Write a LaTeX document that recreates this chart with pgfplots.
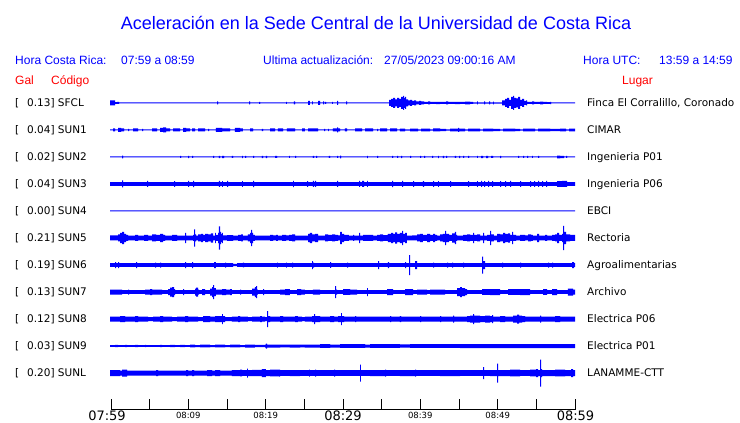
\documentclass[border=0pt]{standalone}
\usepackage{pgfplots}
\pgfplotsset{compat=1.18}
\usepackage{pgfplotstable}
\usepackage{fontspec}
\setmainfont{Liberation Sans}
\newfontfamily\dvs{DejaVu Sans}
\definecolor{trblue}{RGB}{0,0,255}
\definecolor{txblue}{RGB}{0,0,255}
\definecolor{txred}{RGB}{255,0,0}

% p = horizontal position (px), a = half amplitude (px); steps (const plot)
\pgfplotstableread[row sep=\\]{p a\\110 2.5\\115 0.8\\117 1\\119 0.5\\217 1.5\\218 0.5\\249 1.5\\250 0.5\\259 1\\260 0.5\\286 1\\287 0.5\\294 1.5\\295 0.5\\308 2\\310 0.5\\312 1.5\\313 0.5\\318 2\\320 0.5\\323 1.5\\324 0.5\\325 1\\326 0.5\\332 1\\333 0.5\\337 2\\338 0.5\\346 1.5\\347 0.5\\389 3\\391 4\\393 5\\395 3.5\\397 5\\399 4\\401 6\\403 7\\404 5\\405 6\\406 3.5\\408 2.5\\410 3\\412 2\\414 2.5\\416 1.5\\419 2\\421 1.5\\424 1\\428 1.5\\430 1\\436 1.2\\440 1\\446 1.5\\448 1\\455 1.2\\460 1\\465 1.3\\470 1\\473 0.6\\477 1.5\\478 0.6\\484 1.5\\485 0.6\\489 1.5\\490 0.6\\493 1.3\\494 0.6\\502 2.5\\505 4\\507 5\\509 3\\511 6\\513 7\\514 5\\516 4.5\\518 6\\520 3\\522 4\\524 2\\526 2.5\\527 1\\532 1.5\\534 1\\540 1.3\\543 1\\547 0.8\\550 1.2\\551 0.5\\575 0.5\\}\tSFCL

\pgfplotstableread[row sep=\\]{p a\\110 0.5\\113 1.5\\115 0.5\\118 2\\121 1.5\\124 0.5\\128 1.2\\129 0.5\\133 1.5\\138 0.5\\142 1.2\\143 0.5\\152 1.5\\157 0.5\\160 2\\163 2.5\\166 1.5\\170 0.5\\173 1.5\\180 0.5\\183 2\\186 1.5\\190 0.5\\192 1.5\\195 0.5\\198 1.5\\205 0.5\\208 1.2\\209 0.5\\216 2\\222 1.5\\230 0.5\\235 2\\240 1.5\\243 0.5\\250 1.5\\253 0.5\\262 1.2\\263 0.5\\270 1.5\\275 0.5\\278 1.5\\283 0.5\\287 1.5\\295 0.5\\302 1.5\\305 0.5\\308 1.5\\318 0.5\\324 1.2\\325 0.5\\328 1.2\\329 0.5\\333 1.5\\337 2.5\\338 1.5\\340 0.5\\345 1.5\\347 0.5\\355 1.5\\362 0.5\\365 1.5\\373 0.5\\377 1.2\\378 0.5\\380 1.5\\387 0.5\\390 1.5\\397 0.5\\400 1.3\\405 0.7\\410 1.3\\418 0.7\\421 1.3\\430 0.7\\433 1.5\\440 1.2\\446 0.7\\450 1.3\\458 2\\459 1.3\\465 0.7\\468 1.3\\480 0.7\\483 1.3\\493 1.2\\500 0.7\\503 1.3\\515 1.2\\520 0.7\\523 1.3\\535 0.7\\538 1.3\\550 1.2\\560 1.3\\566 0.7\\569 1.3\\575 1.3\\}\tSUNa

\pgfplotstableread[row sep=\\]{p a\\110 0.5\\122 1.3\\123 0.5\\180 1\\181 0.5\\188 1.2\\189 0.5\\192 1\\193 0.5\\213 1\\214 0.5\\219 1.2\\220 0.5\\222 1.2\\224 0.5\\232 1\\233 0.5\\242 1.2\\243 0.5\\245 1\\246 0.5\\253 1\\254 0.5\\262 1.2\\263 0.5\\266 1.2\\267 0.5\\275 1\\277 0.5\\289 1\\290 0.5\\295 1\\296 0.5\\313 1\\314 0.5\\316 1\\317 0.5\\329 1\\330 0.5\\337 1\\338 0.5\\340 1.3\\341 0.5\\367 1.2\\368 0.5\\377 1\\378 0.5\\392 1\\393 0.5\\397 1\\398 0.5\\401 1.2\\402 0.5\\410 1\\411 0.5\\420 1\\421 0.5\\424 1\\425 0.5\\432 1\\433 0.5\\438 1.2\\439 0.5\\443 1.2\\444 0.5\\446 1\\447 0.5\\455 1\\456 0.5\\459 1.2\\460 0.5\\463 1\\464 0.5\\468 1\\469 0.5\\477 1\\478 0.5\\481 1.2\\483 0.5\\486 1.2\\488 0.5\\491 1\\493 0.5\\500 1.2\\501 0.5\\518 1\\519 0.5\\523 1\\524 0.5\\527 1\\528 0.5\\532 1\\533 0.5\\538 1\\539 0.5\\557 1.3\\560 1.2\\564 0.5\\566 1\\567 0.5\\575 0.5\\}\tSUNb

\pgfplotstableread[row sep=\\]{p a\\110 1.8\\122 3.5\\123 1.8\\147 3\\148 1.8\\174 2.8\\175 1.8\\188 3\\189 1.8\\193 3.2\\194 1.8\\219 3\\220 1.8\\222 2.8\\223 1.8\\227 3\\228 1.8\\242 2.8\\243 1.8\\253 3.2\\254 1.8\\293 3.2\\294 1.8\\307 2.8\\308 1.8\\313 3\\314 1.8\\315 3\\316 1.8\\337 3\\338 1.8\\359 3\\360 1.8\\362 3\\364 1.8\\367 3\\368 1.8\\392 3.2\\393 1.8\\402 3\\403 1.8\\413 2.8\\414 1.8\\423 2.8\\424 1.8\\433 2.8\\434 1.8\\438 2.8\\439 1.8\\450 2.8\\451 1.8\\468 2.8\\469 1.8\\477 2.8\\478 1.8\\481 3\\482 1.8\\484 2.8\\485 1.8\\488 3\\489 1.8\\492 2.8\\493 1.8\\500 2.8\\501 1.8\\505 2.8\\506 1.8\\510 3\\511 1.8\\520 2.8\\521 1.8\\530 2.8\\531 1.8\\534 2.8\\535 1.8\\538 3\\539 1.8\\542 2.8\\543 1.8\\546 3\\547 1.8\\557 2.8\\562 3\\567 1.8\\575 1.8\\}\tSUNc

\pgfplotstableread[row sep=\\]{p a\\110 0.5\\575 0.5\\}\tSUNd

\pgfplotstableread[row sep=\\]{p a\\110 2.5\\118 3.5\\120 5\\122 6\\124 4\\126 3\\128 2.3\\135 3\\138 2.3\\144 3\\148 2.3\\152 3.5\\156 3\\160 4\\163 3\\165 2.3\\172 3\\177 2.3\\185 5\\186 2.3\\193 3\\194 8.5\\195 3.5\\196 2.3\\198 3.5\\201 4\\203 3\\205 4\\208 3.5\\211 4.5\\213 2.3\\215 5\\216 3\\218 5\\219 11.5\\220 6\\221 4\\222 5\\223 2.5\\227 2.8\\233 2.3\\238 3\\241 3.5\\243 2.3\\248 3.5\\250 5\\251 8\\252 5\\253 3\\255 2.3\\270 3\\273 2.5\\276 3\\278 2.3\\282 3\\286 2.5\\289 3\\292 3.5\\295 2.3\\308 4\\310 5\\312 3.5\\315 4\\318 2.3\\325 3.5\\328 3\\332 3.5\\335 3\\338 2.5\\340 6\\342 4\\344 3\\349 2.3\\353 3\\354 2.3\\359 5\\360 2.3\\363 3\\373 2.3\\377 3\\380 3.5\\383 2.8\\387 3\\388 4\\391 5\\393 4\\395 5.5\\397 4\\400 5\\402 7\\403 4\\405 5\\407 2.3\\412 2.5\\417 3.5\\420 4\\423 3\\427 4\\430 3\\433 4\\435 3\\437 2.3\\440 3.5\\443 4\\445 7\\446 4\\449 3\\452 4.5\\455 6\\456 3\\457 2.3\\463 3\\467 3.5\\470 3\\473 5\\474 3\\477 3.5\\480 2.3\\483 5\\484 2.3\\487 3\\490 7\\491 3.5\\494 2.3\\497 4\\500 3.5\\503 5\\505 4\\508 4.5\\510 3\\512 6\\513 3\\516 2.3\\520 3\\525 2.5\\528 3.5\\531 3\\533 2.3\\537 4\\539 2.3\\545 3\\547 2.3\\552 3\\555 3.5\\557 5\\559 3\\562 4\\563 12\\564 6\\566 3.5\\570 3\\575 3\\}\tSUNe

\pgfplotstableread[row sep=\\]{p a\\110 1.8\\115 3\\116 1.8\\118 3\\119 1.8\\136 3\\137 1.8\\155 2.5\\156 1.8\\160 2.5\\161 1.8\\185 3\\186 1.8\\192 3\\193 1.8\\214 3\\216 1.8\\225 2.5\\226 1.8\\233 1.2\\237 1.8\\243 2.3\\244 1.8\\277 2.5\\278 1.8\\286 2.5\\287 1.8\\292 2.5\\293 1.8\\312 4\\313 2.5\\314 1.8\\330 2.8\\331 1.8\\347 2.5\\348 1.8\\378 4\\379 1.8\\388 3\\389 1.8\\405 3\\406 1.8\\409 10\\410 1.8\\415 4\\417 1.8\\433 2.5\\434 1.8\\447 2.5\\448 1.8\\452 2.5\\453 1.8\\463 2.5\\464 1.8\\482 8.5\\483 4\\485 1.8\\502 2.5\\503 1.8\\520 2.5\\521 1.8\\548 2.5\\549 1.8\\552 2.5\\553 1.8\\572 3\\574 1.8\\575 1.8\\}\tSUNf

\pgfplotstableread[row sep=\\]{p a\\110 2.5\\122 1.8\\128 2.5\\129 1.8\\145 2.5\\150 3\\152 2.5\\162 1.8\\168 3\\170 4.5\\172 5\\174 3\\175 1.8\\183 3\\184 1.8\\195 3.5\\196 4.5\\198 2.5\\199 1.8\\202 3\\205 1.8\\210 3.5\\212 5\\213 7\\214 4\\216 2.5\\222 3\\226 2.5\\230 3\\232 1.8\\240 2.5\\241 1.8\\252 3.5\\255 5\\256 6\\257 2.5\\258 1.8\\263 3\\264 1.8\\280 2.5\\285 3\\290 1.8\\297 3\\301 2.5\\305 1.8\\313 2.5\\320 1.8\\335 6\\336 2.5\\337 1.8\\343 2.8\\350 2.5\\357 1.8\\367 4\\368 1.8\\387 3\\393 1.8\\405 3\\413 1.8\\417 2.5\\427 1.8\\430 2.5\\445 1.8\\457 4\\460 5\\462 4\\465 3\\467 1.8\\482 2.8\\490 3\\500 1.8\\508 2.8\\520 3\\530 1.8\\543 2.8\\547 1.8\\552 3\\557 1.8\\568 3.5\\573 2.5\\575 2.5\\}\tSUNg

\pgfplotstableread[row sep=\\]{p a\\110 2.5\\120 3\\125 2.5\\135 3\\138 2.5\\148 2\\153 2.5\\160 3\\163 2.5\\172 2\\177 2.5\\185 3\\188 2.5\\198 2\\203 3\\210 2.5\\215 3\\222 5\\223 3\\225 2\\232 2.5\\238 3\\240 2.5\\248 2\\252 2.5\\260 3\\262 2.5\\265 2\\267 8\\268 3\\270 2.5\\280 3\\283 2.5\\295 3\\298 2.5\\302 2\\305 2.5\\312 3\\314 5\\315 3\\320 2.5\\330 3\\334 2.5\\338 3\\341 6\\342 3\\344 2.5\\355 3\\356 2.5\\370 2.5\\390 3\\391 2.5\\400 3\\401 2.5\\420 3\\421 2.5\\440 3\\441 2.5\\453 3.5\\454 2.5\\467 3\\470 3.5\\473 5\\474 3.5\\480 3\\485 3.5\\490 3\\492 4\\493 2.5\\500 3\\505 2.5\\513 3.5\\517 4.5\\519 3.5\\522 3\\525 2.5\\540 3.5\\541 2.5\\555 3\\560 2.5\\575 2.5\\}\tSUNh

\pgfplotstableread[row sep=\\]{p a\\110 0.8\\115 1.2\\118 0.8\\125 1.2\\127 0.8\\135 1.2\\138 0.8\\145 1.2\\146 0.8\\160 1.2\\162 0.8\\170 1.2\\175 0.8\\180 1.2\\185 0.8\\190 1.3\\195 1\\200 1.3\\210 1\\215 1.3\\225 1\\230 1.3\\240 1\\245 1.5\\255 1.2\\265 1.5\\266 2.5\\267 1.5\\280 1.3\\290 1.5\\300 1.3\\305 1.5\\320 1.8\\330 1.5\\340 1.8\\365 1.5\\370 1.8\\400 1.6\\410 1.9\\450 1.8\\460 2\\575 2\\}\tSUNi

\pgfplotstableread[row sep=\\]{p a\\110 3\\120 2.5\\122 3.5\\127 2.5\\156 3\\158 2.5\\186 3\\188 2.5\\192 3\\194 2.5\\207 3\\212 2.5\\215 3\\220 2.5\\232 3\\240 3.3\\242 2.8\\247 4.5\\248 3\\252 3.2\\262 4\\266 3\\270 3.3\\279 3.5\\280 2.8\\290 3\\300 2.8\\309 3.5\\310 2.8\\315 3.5\\316 2.8\\334 3.5\\335 2.8\\360 8.5\\361 2.8\\370 3\\385 3.5\\386 2.8\\400 3\\415 3.5\\416 2.8\\440 3\\460 2.8\\483 6\\484 2.8\\490 3\\497 9.5\\498 3\\510 3.3\\520 2.8\\530 3.3\\536 4\\538 3\\540 13.5\\541 4\\542 3\\555 3.3\\565 3\\571 4\\573 3\\575 3\\}\tSUNL

\pgfplotsset{tracebox/.style={scale only axis, width=740bp, height=423bp,
  xmin=-14.3535, xmax=81.336, ymin=0, ymax=423, y dir=reverse,
  hide axis, clip=false, at={(0,0)}, anchor=south west}}

% one seismogram trace in its own overlaid axis: table, baseline (px from top)
\newcommand{\trace}[2]{%
  \begin{axis}[tracebox, stack plots=y]
  \addplot[draw=none, const plot] table[x expr={(\thisrow{p}-111)/7.7333}, y expr={#2-\thisrow{a}}] {#1};
  \addplot[fill=trblue, draw=none, const plot] table[x expr={(\thisrow{p}-111)/7.7333}, y expr={2*\thisrow{a}}] {#1} \closedcycle;
  \end{axis}}

\begin{document}
\begin{tikzpicture}
\fill[white] (0,0) rectangle (740bp,423bp);
\trace{\tSFCL}{103}
\trace{\tSUNa}{130}
\trace{\tSUNb}{157}
\trace{\tSUNc}{184}
\trace{\tSUNd}{211}
\trace{\tSUNe}{238}
\trace{\tSUNf}{265}
\trace{\tSUNg}{292}
\trace{\tSUNh}{319}
\trace{\tSUNi}{346}
\trace{\tSUNL}{373}
\begin{axis}[tracebox]
\draw[line width=1bp] (axis cs:0,409) -- (axis cs:60,409);
\pgfplotsinvokeforeach{0,5,...,60}{\draw[line width=1bp] (axis cs:#1,399) -- (axis cs:#1,409.5);}
\end{axis}
\begin{scope}[x=1bp,y=-1bp,shift={(0,423bp)}]
% title and header
\node[anchor=base, inner sep=0, text=txblue, font=\fontsize{18bp}{20bp}\selectfont] at (376,29.5) {Aceleración en la Sede Central de la Universidad de Costa Rica};
\begin{scope}[every node/.style={anchor=base west, inner sep=0, text=txblue, font=\fontsize{12bp}{14bp}\selectfont}]
\node at (15,64.5) {Hora Costa Rica:};
\node at (121,64.5) {07:59 a 08:59};
\node at (263,64.5) {Ultima actualización:};
\node at (384,64.5) {27/05/2023 09:00:16 AM};
\node at (583,64.5) {Hora UTC:};
\node at (659,64.5) {13:59 a 14:59};
\end{scope}
\begin{scope}[every node/.style={anchor=base west, inner sep=0, text=txred, font=\fontsize{12bp}{14bp}\selectfont}]
\node at (15,84.5) {Gal};
\node at (51,84.5) {Código};
\node at (622,84.5) {Lugar};
\end{scope}
% row labels
\begin{scope}[every node/.style={anchor=base west, inner sep=0, text=black, font=\dvs\fontsize{10.5bp}{12bp}\selectfont}]
\node at (15,106.8) {[}; \node at (27,106.8) {0.13] SFCL}; \node at (587,106.8) {Finca El Corralillo, Coronado};
\node at (15,133.8) {[}; \node at (27,133.8) {0.04] SUN1}; \node at (587,133.8) {CIMAR};
\node at (15,160.8) {[}; \node at (27,160.8) {0.02] SUN2}; \node at (587,160.8) {Ingenieria P01};
\node at (15,187.8) {[}; \node at (27,187.8) {0.04] SUN3}; \node at (587,187.8) {Ingenieria P06};
\node at (15,214.8) {[}; \node at (27,214.8) {0.00] SUN4}; \node at (587,214.8) {EBCI};
\node at (15,241.8) {[}; \node at (27,241.8) {0.21] SUN5}; \node at (587,241.8) {Rectoria};
\node at (15,268.8) {[}; \node at (27,268.8) {0.19] SUN6}; \node at (587,268.8) {Agroalimentarias};
\node at (15,295.8) {[}; \node at (27,295.8) {0.13] SUN7}; \node at (587,295.8) {Archivo};
\node at (15,322.8) {[}; \node at (27,322.8) {0.12] SUN8}; \node at (587,322.8) {Electrica P06};
\node at (15,349.8) {[}; \node at (27,349.8) {0.03] SUN9}; \node at (587,349.8) {Electrica P01};
\node at (15,376.8) {[}; \node at (27,376.8) {0.20] SUNL}; \node at (587,376.8) {LANAMME-CTT};
\end{scope}
% time labels
\begin{scope}[every node/.style={anchor=base, inner sep=0, text=black, font=\dvs\fontsize{13bp}{14bp}\selectfont}]
\node at (107,421) {07:59};
\node at (343,421) {08:29};
\node at (575.5,421) {08:59};
\end{scope}
\begin{scope}[every node/.style={anchor=base, inner sep=0, text=black, font=\dvs\fontsize{8.5bp}{10bp}\selectfont}]
\node at (188.3,419) {08:09};
\node at (265.7,419) {08:19};
\node at (420.3,419) {08:39};
\node at (497.7,419) {08:49};
\end{scope}
\end{scope}
\end{tikzpicture}
\end{document}
